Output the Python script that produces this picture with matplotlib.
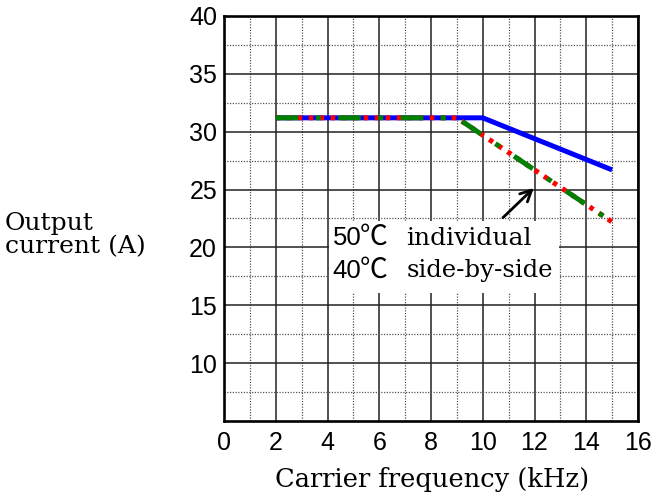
import matplotlib.pyplot as plt
from matplotlib.patches import Rectangle

# data
blue_x = [2, 10, 15]
blue_y = [31.2, 31.2, 26.7]
red_x = [2, 9, 15]
red_y = [31.2, 31.2, 22.2]
green_x = [2, 9, 15]
green_y = [31.2, 31.2, 22.2]

x_ticks = [0, 2, 4, 6, 8, 10, 12, 14, 16]
y_ticks = [10, 15, 20, 25, 30, 35, 40]

sans = ['Liberation Sans', 'DejaVu Sans']
serif = ['DejaVu Serif', 'Noto Sans CJK JP']
cjk = ['Noto Sans CJK JP', 'DejaVu Sans']

fig = plt.figure(figsize=(6.56, 5.0), dpi=100)
ax = fig.add_axes([224 / 656, 1 - 421 / 500, 414 / 656, 405 / 500])

# lines
ax.plot(blue_x, blue_y, color='#0000ff', lw=3.6, solid_capstyle='butt', zorder=3)
ax.plot(red_x, red_y, color='#ff0000', lw=3.6, linestyle=(0, (0.9, 1.3)),
        dash_capstyle='butt', zorder=4)
ax.plot(green_x, green_y, color='#008000', lw=3.6, linestyle=(0, (4.5, 3.5, 1, 3.5)),
        dash_capstyle='butt', zorder=5)

ax.set_xlim(0, 16)
ax.set_ylim(5, 40)
ax.set_xticks(x_ticks)
ax.set_yticks(y_ticks)
ax.set_xticks(range(1, 16, 2), minor=True)
ax.set_yticks([7.5, 12.5, 17.5, 22.5, 27.5, 32.5, 37.5], minor=True)
ax.tick_params(which='both', length=0)
ax.tick_params(axis='x', pad=7)
ax.tick_params(axis='y', pad=5)
for lab in ax.get_xticklabels() + ax.get_yticklabels():
    lab.set_family(sans)
    lab.set_fontsize(18)

# grid
ax.grid(True, which='major', color='#222222', lw=1.1, linestyle='-', zorder=0)
ax.grid(True, which='minor', color='#555555', lw=0.9, linestyle=(0, (1, 1.2)), zorder=0)
ax.set_axisbelow(True)
for s in ax.spines.values():
    s.set_linewidth(1.9)

# label box
ax.add_patch(Rectangle((4.05, 16.1), 8.9, 6.2, facecolor='white', edgecolor='none', zorder=6))
ax.annotate('', xy=(12.05, 25.3), xytext=(10.7, 22.4),
            arrowprops=dict(arrowstyle='->', color='black', lw=2.0, mutation_scale=20), zorder=7)
ax.text(4.2, 20.8, '50', family=sans, fontsize=18.5, va='center', ha='left', zorder=7)
ax.text(5.25, 20.9, '℃', family=cjk, fontsize=20, va='center', ha='left', zorder=7)
ax.text(7.05, 20.8, 'individual', family=serif, fontsize=18, va='center', ha='left', zorder=7)
ax.text(4.2, 18.0, '40', family=sans, fontsize=18.5, va='center', ha='left', zorder=7)
ax.text(5.25, 18.1, '℃', family=cjk, fontsize=20, va='center', ha='left', zorder=7)
ax.text(7.05, 18.0, 'side-by-side', family=serif, fontsize=17.5, va='center', ha='left', zorder=7)

# axis labels
fig.text(5 / 656, 1 - 235 / 500, 'Output\ncurrent (A)', family=serif, fontsize=18,
         ha='left', va='center', multialignment='left', linespacing=1.0)
fig.text(432 / 656, 1 - 479 / 500, 'Carrier frequency (kHz)', family=serif, fontsize=18.5,
         ha='center', va='center')

fig.savefig('out.png', dpi=100)
